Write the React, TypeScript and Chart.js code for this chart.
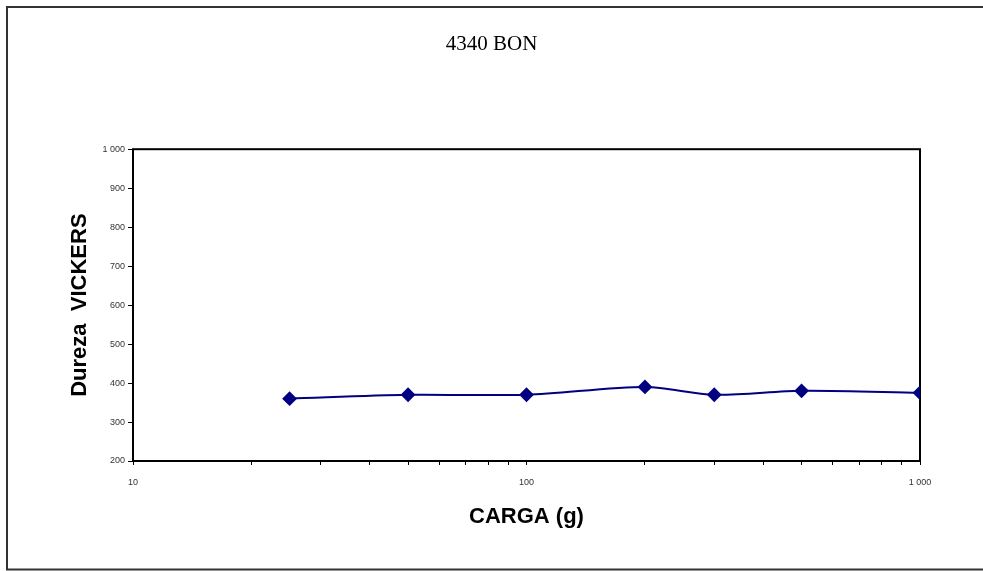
import React, { useEffect, useRef } from "react";
import { Chart, registerables } from "chart.js";

Chart.register(...registerables);

const chartTitle = "4340 BON";
const xAxisTitle = "CARGA (g)";
const yAxisTitle = "Dureza  VICKERS";
const loads = [25, 50, 100, 200, 300, 500, 1000];
const hardness = [360, 370, 370, 390, 370, 380, 375];
const xMajorTicks = [10, 100, 1000];
const xMajorLabels = ["10", "100", "1 000"];
const yTickLabels: Record<number, string> = {
  200: "200", 300: "300", 400: "400", 500: "500", 600: "600",
  700: "700", 800: "800", 900: "900", 1000: "1 000",
};

const framePlugin = {
  id: "frames",
  beforeDatasetsDraw(chart: any) {
    const { ctx, chartArea } = chart;
    ctx.save();
    ctx.strokeStyle = "#000";
    ctx.lineWidth = 2;
    ctx.strokeRect(chartArea.left, chartArea.top, chartArea.right - chartArea.left, chartArea.bottom - chartArea.top);
    ctx.restore();
  },
  afterDraw(chart: any) {
    const { ctx } = chart;
    ctx.save();
    ctx.strokeStyle = "#333";
    ctx.lineWidth = 2;
    ctx.strokeRect(7, 7, 990, 562.5);
    ctx.restore();
  },
};

export default function App() {
  const ref = useRef<HTMLCanvasElement | null>(null);
  useEffect(() => {
    if (!ref.current) return;
    const chart = new Chart(ref.current, {
      type: "line",
      data: {
        datasets: [
          {
            label: chartTitle,
            data: loads.map((x, i) => ({ x, y: hardness[i] })),
            borderColor: "#000080",
            backgroundColor: "#000080",
            borderWidth: 2,
            tension: 0.3,
            pointStyle: "rectRot",
            pointRadius: 6,
            pointBorderColor: "#000080",
            pointBackgroundColor: "#000080",
          },
        ],
      },
      options: {
        animation: false,
        responsive: false,
        layout: { padding: { left: 0, right: 0, top: 0, bottom: 0 } },
        plugins: {
          legend: { display: false },
          tooltip: { enabled: false },
          title: {
            display: true,
            text: chartTitle,
            color: "#000",
            font: { family: "'Liberation Serif', 'Times New Roman', serif", size: 21, weight: "normal" },
            padding: { top: 32, bottom: 92 },
          },
        },
        scales: {
          x: {
            type: "logarithmic",
            min: 10,
            max: 1000,
            afterFit(scale: any) { scale.height = 110; },
            afterBuildTicks(scale: any) {
              const ticks: any[] = [];
              for (let d = 10; d < 1000; d *= 10) {
                for (let k = 1; k < 10; k++) ticks.push({ value: d * k });
              }
              ticks.push({ value: 1000 });
              scale.ticks = ticks;
            },
            grid: { display: true, drawOnChartArea: false, color: "#000", tickLength: 4, lineWidth: 1 },
            border: { display: false },
            ticks: {
              autoSkip: false,
              maxRotation: 0,
              padding: 12,
              color: "#333",
              font: { family: "'Liberation Sans', Arial, sans-serif", size: 9 },
              callback(value: any) {
                const idx = xMajorTicks.indexOf(Number(value));
                return idx >= 0 ? xMajorLabels[idx] : "";
              },
            },
            title: {
              display: true,
              text: xAxisTitle,
              color: "#000",
              font: { family: "'Liberation Sans', Arial, sans-serif", size: 22, weight: "bold" },
              padding: { top: 0, bottom: 41 },
            },
          },
          y: {
            type: "linear",
            min: 200,
            max: 1000,
            afterFit(scale: any) { scale.width = 133; },
            grid: { display: true, drawOnChartArea: false, color: "#000", tickLength: 5, lineWidth: 1 },
            border: { display: false },
            ticks: {
              stepSize: 100,
              padding: 3,
              color: "#333",
              font: { family: "'Liberation Sans', Arial, sans-serif", size: 9 },
              callback(value: any) { return yTickLabels[Number(value)] ?? String(value); },
            },
            title: {
              display: true,
              text: yAxisTitle,
              color: "#000",
              font: { family: "'Liberation Sans', Arial, sans-serif", size: 22, weight: "bold" },
              padding: { top: 67, bottom: 0 },
            },
          },
          spacer: {
            type: "linear",
            position: "right",
            min: 0,
            max: 1,
            afterFit(scale: any) { scale.width = 63; },
            grid: { display: false },
            border: { display: false },
            ticks: { display: false },
          },
        },
      },
      plugins: [framePlugin],
    });
    return () => chart.destroy();
  }, []);
  return (
    <div style={{ position: "absolute", left: 0, top: 0, width: 983, height: 571, background: "#fff" }}>
      <canvas ref={ref} width={983} height={571} />
    </div>
  );
}
